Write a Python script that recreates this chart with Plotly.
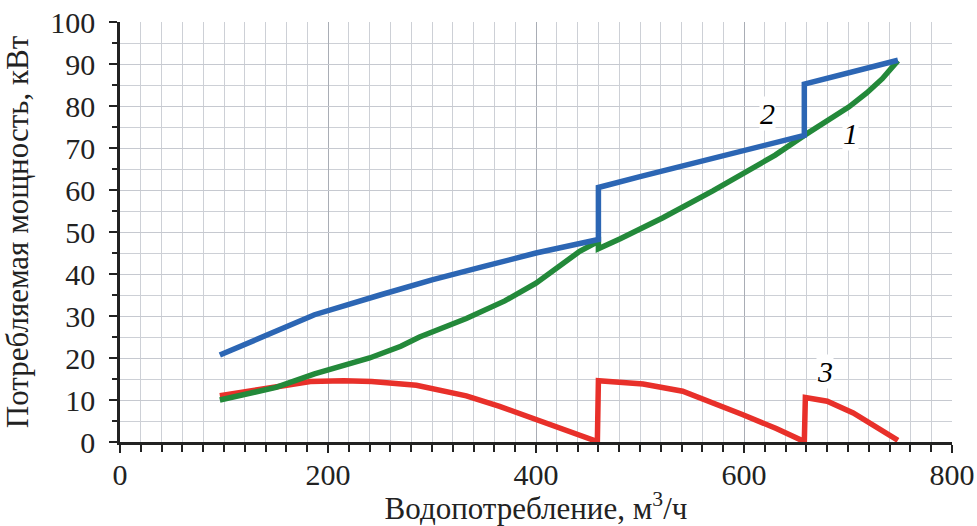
import plotly.graph_objects as go

# Curve 1 (green)
x1 = [96, 150, 187, 240, 270, 288, 333, 370, 400, 425, 442, 460, 460, 481, 522, 570, 600, 630, 658, 680, 701, 718, 733, 748]
y1 = [10, 13, 16.2, 20, 22.8, 25.0, 29.4, 33.6, 37.8, 42.2, 45.4, 47.8, 46.0, 48.4, 53.4, 59.8, 63.9, 68.3, 73.0, 76.3, 79.8, 83.1, 86.5, 90.8]

# Curve 2 (blue)
x2 = [96, 187, 250, 300, 350, 400, 460, 460, 500, 550, 600, 658, 658, 700, 748]
y2 = [20.7, 30.3, 35.0, 38.6, 41.8, 45.0, 48.2, 60.6, 63.2, 66.4, 69.5, 73.0, 85.2, 88.0, 90.9]

# Curve 3 (red)
x3 = [96, 140, 183, 215, 242, 285, 333, 365, 397, 430, 459, 460, 503, 541, 567, 599, 631, 658, 659, 680, 705, 727, 748]
y3 = [11.0, 12.8, 14.4, 14.6, 14.4, 13.5, 11.0, 8.5, 5.6, 2.4, 0.1, 14.6, 13.8, 12.1, 9.7, 6.5, 3.2, 0.1, 10.6, 9.7, 6.9, 3.7, 0.4]

labels = ["1", "2", "3"]
label_x = [702, 623, 678]
label_y = [73.4, 78.3, 16.7]

xticks = [0, 200, 400, 600, 800]
yticks = list(range(0, 101, 10))

fig = go.Figure()
fig.add_trace(go.Scatter(x=x3, y=y3, mode="lines", line=dict(color="#e8302a", width=5.5), showlegend=False))
fig.add_trace(go.Scatter(x=x1, y=y1, mode="lines", line=dict(color="#23893a", width=5.5), showlegend=False))
fig.add_trace(go.Scatter(x=x2, y=y2, mode="lines", line=dict(color="#2c66b4", width=5.5), showlegend=False))

for t, xx, yy in zip(labels, label_x, label_y):
    fig.add_annotation(x=xx, y=yy, text=t, showarrow=False,
                       font=dict(family="Liberation Serif", size=30, color="black", style="italic"),
                       bgcolor="white", borderpad=0)

tickfont = dict(family="Liberation Serif", size=30, color="#222222")
titlefont = dict(family="Liberation Serif", size=31, color="#222222")

fig.update_layout(
    width=977, height=526,
    margin=dict(l=120, r=25, t=22, b=84),
    paper_bgcolor="white", plot_bgcolor="white",
    font=tickfont,
    xaxis=dict(
        range=[0, 800], tickvals=xticks, ticktext=[str(v) for v in xticks],
        automargin=False, tickfont=tickfont,
        showline=True, linecolor="#222222", linewidth=2.5,
        ticks="outside", ticklen=8, tickwidth=2, tickcolor="#222222",
        showgrid=True, gridcolor="#a9adb5", gridwidth=1.3,
        minor=dict(dtick=20, showgrid=True, gridcolor="#cdd0d6", gridwidth=1.3,
                   ticks="outside", ticklen=7, tickwidth=2, tickcolor="#222222"),
        zeroline=False,
        ticklabelstandoff=-4,
        title=dict(text="Водопотребление, м<sup>3</sup>/ч", font=titlefont, standoff=0),
    ),
    yaxis=dict(
        range=[0, 100], tickvals=yticks, ticktext=[str(v) for v in yticks],
        automargin=False, tickfont=tickfont,
        showline=True, linecolor="#222222", linewidth=2.5,
        ticks="outside", ticklen=8, tickwidth=2, tickcolor="#222222",
        showgrid=True, gridcolor="#c6c9d0", gridwidth=1.3,
        minor=dict(dtick=5, showgrid=True, gridcolor="#cdd0d6", gridwidth=1.3,
                   ticks="outside", ticklen=5, tickwidth=2, tickcolor="#222222"),
        zeroline=False,
        ticklabelstandoff=8,
        title=dict(text="Потребляемая мощность, кВт", font=titlefont, standoff=14),
    ),
)

fig.write_html("out.html", config={"displayModeBar": False},
               post_script="document.body.style.margin='0';document.body.style.overflow='hidden';")
